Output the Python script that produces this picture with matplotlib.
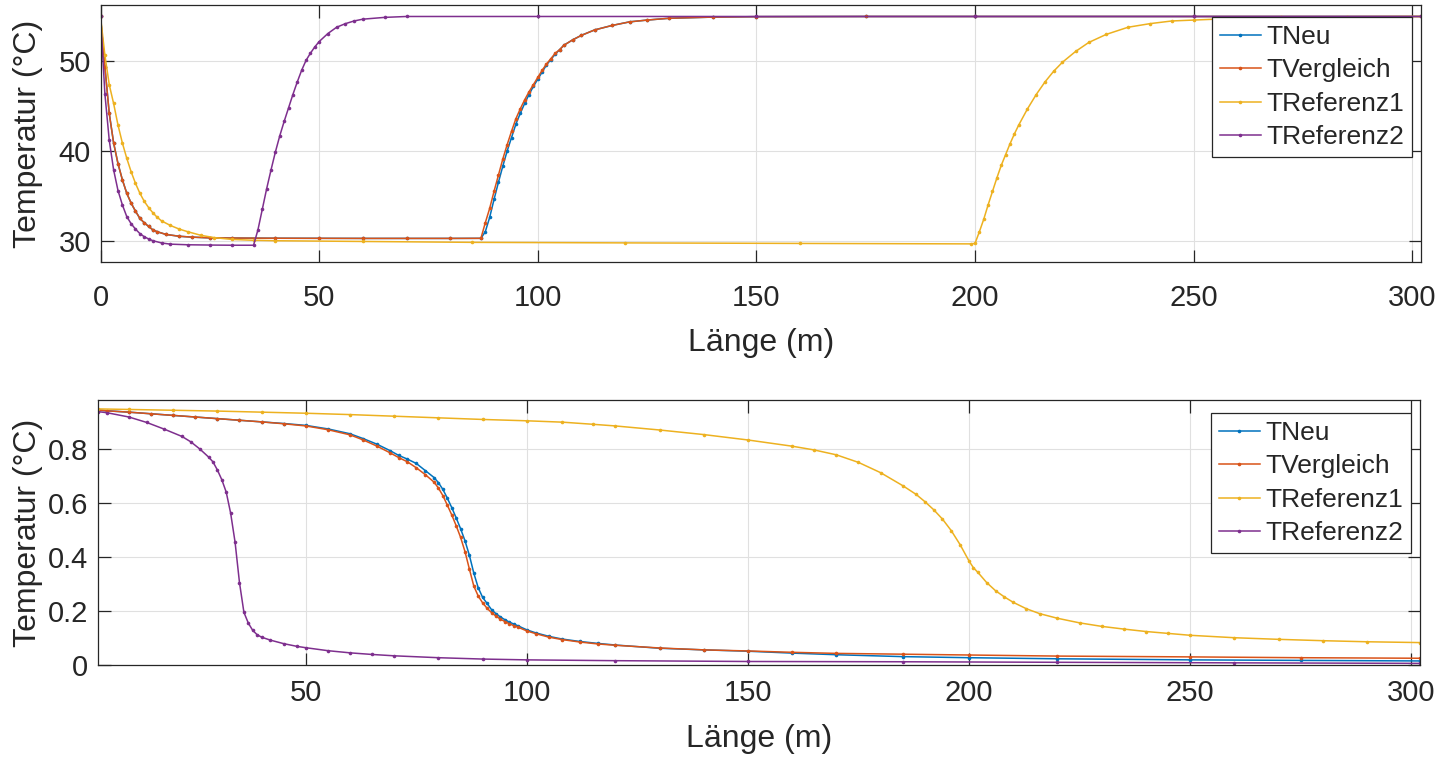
import matplotlib
matplotlib.use("Agg")
import matplotlib.pyplot as plt

# ---------------- data ----------------
series_names = ["TNeu", "TVergleich", "TReferenz1", "TReferenz2"]
series_colors = ["#0072BD", "#D95319", "#EDB120", "#7E2F8E"]

# top panel: temperature (°C) over length (m)
top_neu_x = [0, 1, 2, 3, 4, 5, 6, 7, 8, 9, 10, 11, 12, 13, 15, 18, 21, 25, 30, 40, 50, 60, 70, 80, 87,
             88, 89, 90, 91, 92, 93, 94, 95, 96, 97, 98, 99, 100, 101, 102, 103, 104, 105, 106, 108,
             110, 113, 117, 121, 125, 130, 140, 150, 175, 200, 250, 302]
top_neu_y = [55.0, 49.4, 44.2, 40.9, 38.6, 36.8, 35.3, 34.2, 33.3, 32.5, 32.0, 31.6, 31.2, 31.0, 30.7,
             30.5, 30.4, 30.32, 30.3, 30.28, 30.27, 30.26, 30.26, 30.26, 30.27,
             31.0, 32.6, 34.6, 36.5, 38.3, 40.0, 41.5, 43.0, 44.2, 45.3, 46.3, 47.2, 48.0, 48.8, 49.6,
             50.2, 50.8, 51.3, 51.8, 52.4, 52.9, 53.5, 54.0, 54.4, 54.6, 54.8, 54.93, 54.98, 55.0, 55.0,
             55.0, 55.0]

top_vgl_x = [0, 1, 2, 3, 4, 5, 6, 7, 8, 9, 10, 11, 12, 13, 15, 18, 21, 25, 30, 40, 50, 60, 70, 80, 87,
             88, 89, 90, 91, 92, 93, 94, 95, 96, 97, 98, 99, 100, 101, 102, 103, 104, 105, 106, 108,
             110, 113, 117, 121, 125, 130, 140, 150, 175, 200, 250, 302]
top_vgl_y = [55.0, 49.4, 44.2, 40.9, 38.6, 36.8, 35.3, 34.2, 33.3, 32.5, 32.0, 31.6, 31.2, 31.0, 30.7,
             30.5, 30.4, 30.32, 30.3, 30.28, 30.27, 30.26, 30.26, 30.26, 30.27,
             32.0, 33.6, 35.5, 37.3, 39.1, 40.7, 42.2, 43.6, 44.7, 45.7, 46.6, 47.4, 48.2, 49.0, 49.7,
             50.3, 50.9, 51.3, 51.8, 52.4, 52.9, 53.5, 54.0, 54.4, 54.6, 54.8, 54.93, 54.98, 55.0, 55.0,
             55.0, 55.0]

top_ref1_x = [0, 1, 2, 3, 4, 5, 6, 7, 8, 9, 10, 11, 12, 13, 14, 16, 18, 20, 23, 26, 30, 35, 40, 60, 85,
              120, 160, 199, 200, 201, 202, 203, 204, 205, 206, 207, 208, 209, 210, 212, 214, 216, 218,
              220, 223, 226, 230, 235, 240, 245, 250, 260, 270, 285, 302]
top_ref1_y = [55.0, 50.7, 47.4, 45.3, 42.9, 40.9, 39.2, 37.7, 36.4, 35.3, 34.4, 33.7, 33.1, 32.6, 32.2,
              31.7, 31.3, 31.0, 30.6, 30.35, 30.15, 30.05, 30.0, 29.92, 29.82, 29.76, 29.7, 29.65, 29.7,
              31.0, 32.4, 34.0, 35.5, 37.0, 38.4, 39.6, 40.8, 41.9, 42.9, 44.7, 46.3, 47.7, 48.9, 49.9,
              51.1, 52.1, 53.0, 53.8, 54.2, 54.5, 54.6, 54.8, 54.9, 54.97, 55.0]

top_ref2_x = [0, 1, 2, 3, 4, 5, 6, 7, 8, 9, 10, 11, 12, 14, 16, 20, 25, 30, 35, 36, 37, 38, 39, 40, 41,
              42, 43, 44, 45, 46, 47, 48, 49, 50, 52, 54, 56, 58, 60, 65, 70, 100, 150, 200, 250, 302]
top_ref2_y = [55.0, 46.4, 41.2, 37.9, 35.6, 34.0, 32.7, 31.9, 31.3, 30.8, 30.45, 30.2, 30.0, 29.75,
              29.62, 29.55, 29.52, 29.5, 29.5, 31.2, 33.5, 35.8, 37.9, 39.9, 41.7, 43.3, 44.8, 46.3,
              47.7, 49.0, 50.1, 50.9, 51.6, 52.2, 53.1, 53.8, 54.2, 54.5, 54.7, 54.9, 55.0, 55.0, 55.0,
              55.0, 55.0, 55.0]

# bottom panel: normalised value over length (m)
bot_neu_x = [3, 5, 10, 15, 20, 25, 30, 35, 40, 45, 50, 55, 60, 63, 66, 69, 71, 73, 75, 77, 79, 80, 81,
             82, 83, 84, 85, 86, 87, 88, 89, 90, 91, 92, 93, 94, 95, 96, 97, 98, 100, 102, 105, 108,
             112, 116, 120, 130, 140, 150, 160, 170, 185, 200, 220, 250, 275, 302]
bot_neu_y = [0.944, 0.941, 0.936, 0.930, 0.924, 0.918, 0.912, 0.906, 0.900, 0.894, 0.887, 0.874, 0.856,
             0.838, 0.818, 0.794, 0.776, 0.762, 0.746, 0.720, 0.694, 0.675, 0.650, 0.618, 0.583, 0.545,
             0.505, 0.460, 0.406, 0.340, 0.286, 0.250, 0.228, 0.205, 0.190, 0.178, 0.168, 0.159, 0.152,
             0.145, 0.130, 0.119, 0.106, 0.096, 0.087, 0.080, 0.074, 0.062, 0.056, 0.051, 0.044, 0.038,
             0.031, 0.027, 0.023, 0.019, 0.017, 0.015]

bot_vgl_x = [3, 5, 10, 15, 20, 25, 30, 35, 40, 45, 50, 55, 60, 63, 66, 69, 71, 73, 75, 77, 79, 80, 81,
             82, 83, 84, 85, 86, 87, 88, 89, 90, 91, 92, 93, 94, 95, 96, 97, 98, 100, 102, 105, 108,
             112, 116, 120, 130, 140, 150, 160, 170, 185, 200, 220, 250, 275, 302]
bot_vgl_y = [0.944, 0.941, 0.936, 0.930, 0.924, 0.918, 0.912, 0.906, 0.900, 0.893, 0.885, 0.871, 0.852,
             0.833, 0.811, 0.786, 0.768, 0.752, 0.730, 0.705, 0.677, 0.655, 0.627, 0.592, 0.556, 0.516,
             0.473, 0.420, 0.355, 0.292, 0.255, 0.230, 0.210, 0.194, 0.181, 0.170, 0.161, 0.153, 0.146,
             0.140, 0.126, 0.116, 0.103, 0.094, 0.085, 0.078, 0.073, 0.063, 0.056, 0.052, 0.047, 0.043,
             0.040, 0.037, 0.033, 0.030, 0.027, 0.025]

bot_ref1_x = [3, 10, 20, 30, 40, 50, 60, 70, 80, 90, 100, 108, 115, 120, 130, 140, 150, 160, 165, 170,
              175, 180, 185, 188, 190, 192, 194, 196, 198, 200, 201, 202, 204, 206, 208, 210, 213, 216,
              220, 225, 230, 235, 240, 245, 250, 260, 270, 280, 290, 302]
bot_ref1_y = [0.948, 0.946, 0.943, 0.940, 0.936, 0.932, 0.927, 0.921, 0.915, 0.909, 0.904, 0.899,
              0.891, 0.885, 0.870, 0.853, 0.833, 0.810, 0.796, 0.778, 0.750, 0.712, 0.664, 0.632, 0.605,
              0.575, 0.540, 0.497, 0.445, 0.385, 0.360, 0.343, 0.305, 0.275, 0.252, 0.232, 0.208, 0.190,
              0.173, 0.156, 0.143, 0.133, 0.124, 0.117, 0.110, 0.101, 0.095, 0.090, 0.086, 0.083]

bot_ref2_x = [3, 5, 10, 14, 18, 22, 24, 26, 28, 29, 30, 31, 32, 33, 34, 35, 36, 37, 38, 39, 40, 42, 45,
              48, 50, 55, 60, 65, 70, 80, 90, 100, 120, 150, 185, 220, 260, 302]
bot_ref2_y = [0.938, 0.934, 0.918, 0.898, 0.873, 0.846, 0.826, 0.800, 0.770, 0.752, 0.722, 0.686,
              0.640, 0.562, 0.455, 0.305, 0.195, 0.155, 0.128, 0.112, 0.103, 0.092, 0.079, 0.069, 0.064,
              0.053, 0.045, 0.039, 0.034, 0.027, 0.022, 0.019, 0.016, 0.013, 0.012, 0.010, 0.008, 0.006]

top_xticks = [0, 50, 100, 150, 200, 250, 300]
top_yticks = [30, 40, 50]
bot_xticks = [50, 100, 150, 200, 250, 300]
bot_yticks = [0, 0.2, 0.4, 0.6, 0.8]
bot_yticklabels = ["0", "0.2", "0.4", "0.6", "0.8"]

x_label = "Länge (m)"
y_label = "Temperatur (°C)"

# ---------------- style ----------------
plt.rcParams["font.family"] = ["Liberation Sans", "DejaVu Sans"]
TXT = "#262626"
W, H = 1446, 760
fig = plt.figure(figsize=(W / 100, H / 100), dpi=100)

def px_axes(l, t, r, b):
    return fig.add_axes([l / W, 1 - b / H, (r - l) / W, (b - t) / H])

ax1 = px_axes(100.5, 5, 1421, 262)
ax2 = px_axes(98, 400, 1420, 665)

top_data = [(top_neu_x, top_neu_y), (top_vgl_x, top_vgl_y), (top_ref1_x, top_ref1_y), (top_ref2_x, top_ref2_y)]
bot_data = [(bot_neu_x, bot_neu_y), (bot_vgl_x, bot_vgl_y), (bot_ref1_x, bot_ref1_y), (bot_ref2_x, bot_ref2_y)]

for ax, data in ((ax1, top_data), (ax2, bot_data)):
    for (xs, ys), name, col in zip(data, series_names, series_colors):
        ax.plot(xs, ys, color=col, lw=1.1, marker="o", ms=2.6, mew=0, label=name)

ax1.set_xlim(0, 302)
ax1.set_ylim(27.63, 56.28)
ax1.set_xticks(top_xticks)
ax1.set_yticks(top_yticks)

ax2.set_xlim(3, 302)
ax2.set_ylim(0, 0.981)
ax2.set_xticks(bot_xticks)
ax2.set_yticks(bot_yticks)
ax2.set_yticklabels(bot_yticklabels)

for ax, xpad in ((ax1, 16), (ax2, 10)):
    ax.grid(True, color="#e0e0e0", lw=0.8)
    ax.set_axisbelow(True)
    for s in ax.spines.values():
        s.set_color(TXT)
        s.set_linewidth(0.9)
    ax.tick_params(axis="both", which="both", direction="in", length=9, width=0.9,
                   top=True, right=True, colors=TXT, labelsize=21, labelcolor=TXT)
    ax.tick_params(axis="x", pad=xpad)
    ax.tick_params(axis="y", pad=7)
    ax.set_xlabel(x_label, fontsize=23, color=TXT)
    ax.set_ylabel(y_label, fontsize=23, color=TXT)

ax1.xaxis.set_label_coords(0.5, -0.255)
ax2.xaxis.set_label_coords(0.5, -0.224)
ax1.yaxis.set_label_coords(-0.0435, 0.5)
ax2.yaxis.set_label_coords(-0.0416, 0.5)

for ax, axw, axh, top_off in ((ax1, 1320.5, 257, 12), (ax2, 1322, 265, 13)):
    leg = ax.legend(loc="upper right", bbox_to_anchor=(1 - 9 / axw, 1 - top_off / axh),
                    borderaxespad=0, fontsize=19, frameon=True, fancybox=False,
                    edgecolor=TXT, framealpha=1, numpoints=1, handlelength=1.55,
                    handletextpad=0.2, labelspacing=0.36, borderpad=0.3)
    leg.get_frame().set_linewidth(0.9)
    for t in leg.get_texts():
        t.set_color(TXT)

fig.savefig("out.png", dpi=100)
